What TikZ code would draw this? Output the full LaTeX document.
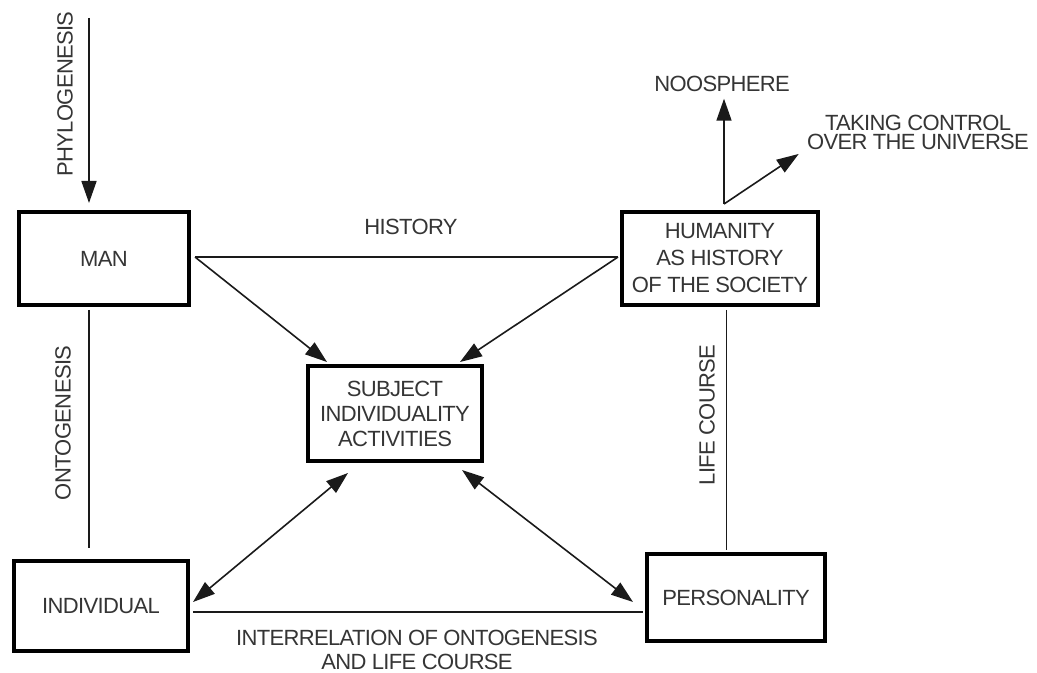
\documentclass[tikz,border=0pt]{standalone}
\usepackage{fontspec}
\setmainfont{Liberation Sans}[LetterSpace=-3]
\usetikzlibrary{arrows.meta,calc}
\definecolor{txt}{HTML}{353535}
\definecolor{ln}{HTML}{1A1A1A}
\begin{document}
\begin{tikzpicture}[x=0.5pt,y=-0.5pt,
  box/.style={draw=black, line width=2pt, inner sep=0pt, align=center, text=txt,
    font=\fontsize{11pt}{12.5pt}\selectfont},
  lbl/.style={inner sep=0pt, align=center, text=txt, font=\fontsize{11pt}{12pt}\selectfont},
  conn/.style={line width=0.8pt, draw=ln},
  tipend/.style={-{Triangle[length=11pt,width=7.5pt]}},
  tipboth/.style={{Triangle[length=11pt,width=7.5pt]}-{Triangle[length=11pt,width=7.5pt]}}]
\useasboundingbox[fill=white] (0,0) rectangle (1037,673);

% boxes
\node[box, minimum width=85pt, minimum height=46.5pt] (MAN) at (104,258.5) {MAN};
\node[box, minimum width=98pt, minimum height=46.5pt, font=\fontsize{11pt}{13.5pt}\selectfont] (HUM) at (720,258.5) {HUMANITY\\AS HISTORY\\OF THE SOCIETY};
\node[box, minimum width=87pt, minimum height=47.5pt] (SUBJ) at (395,413.5) {SUBJECT\\INDIVIDUALITY\\ACTIVITIES};
\node[box, minimum width=87pt, minimum height=45pt] (IND) at (101,606) {INDIVIDUAL};
\node[box, minimum width=89pt, minimum height=43.5pt] (PERS) at (736,597.5) {PERSONALITY};

% labels
\node[lbl] (HIST) at (411,227) {HISTORY};
\node[lbl] (NOOS) at (722,84) {NOOSPHERE};
\node[lbl, font=\fontsize{11pt}{9.75pt}\selectfont] (TAK) at (918,132.5) {TAKING CONTROL\\OVER THE UNIVERSE};
\node[lbl] (INTER) at (417,650) {INTERRELATION OF ONTOGENESIS\\AND LIFE COURSE};
\node[lbl, rotate=90] (PHYLO) at (65,94) {PHYLOGENESIS};
\node[lbl, rotate=90] (ONTO) at (63,423) {ONTOGENESIS};
\node[lbl, rotate=90] (LIFE) at (707,415) {LIFE COURSE};

% free ends
\coordinate (ptop) at (89,18);
\coordinate (hub) at ($(HUM.north)+(2pt,3pt)$);
\coordinate (manout) at ($(MAN.east)+(2pt,0.75pt)$);
\coordinate (humin) at ($(HUM.west)+(-1pt,0.75pt)$);

% connectors
\draw[conn,tipend,shorten >=3.5pt] (ptop) -- (ptop |- MAN.north);
\draw[conn] (manout) -- (humin);
\draw[conn,tipend] (manout) -- ($(SUBJ.north west)+(10.5pt,1pt)$);
\draw[conn,tipend] (humin) -- ($(SUBJ.north east)+(-12pt,1pt)$);
\draw[conn,tipboth] ($(IND.east)+(1.5pt,2pt)$) -- ($(SUBJ.south west)+(21pt,-5pt)$);
\draw[conn,tipboth] ($(SUBJ.south east)+(-11pt,-3.5pt)$) -- ($(PERS.west)+(-6pt,-2.25pt)$);
\draw[conn] ($(IND.east)+(1.5pt,-3pt)$) -- ($(IND.east -| PERS.west)+(-1pt,-3pt)$);
\draw[conn] ($(MAN.south)+(-7.5pt,-1.5pt)$) -- ($(MAN.south |- IND.north)+(-7.5pt,5.5pt)$);
\draw[conn] ($(HUM.south)+(3.25pt,-1.5pt)$) -- ($(HUM.south |- PERS.north)+(3.25pt,1pt)$);
\draw[conn,tipend,shorten >=3.25pt] (hub) -- (hub |- NOOS.south);
\draw[conn,tipend] (hub) -- ($(TAK.south west)+(-4pt,-1.75pt)$);
\end{tikzpicture}
\end{document}
